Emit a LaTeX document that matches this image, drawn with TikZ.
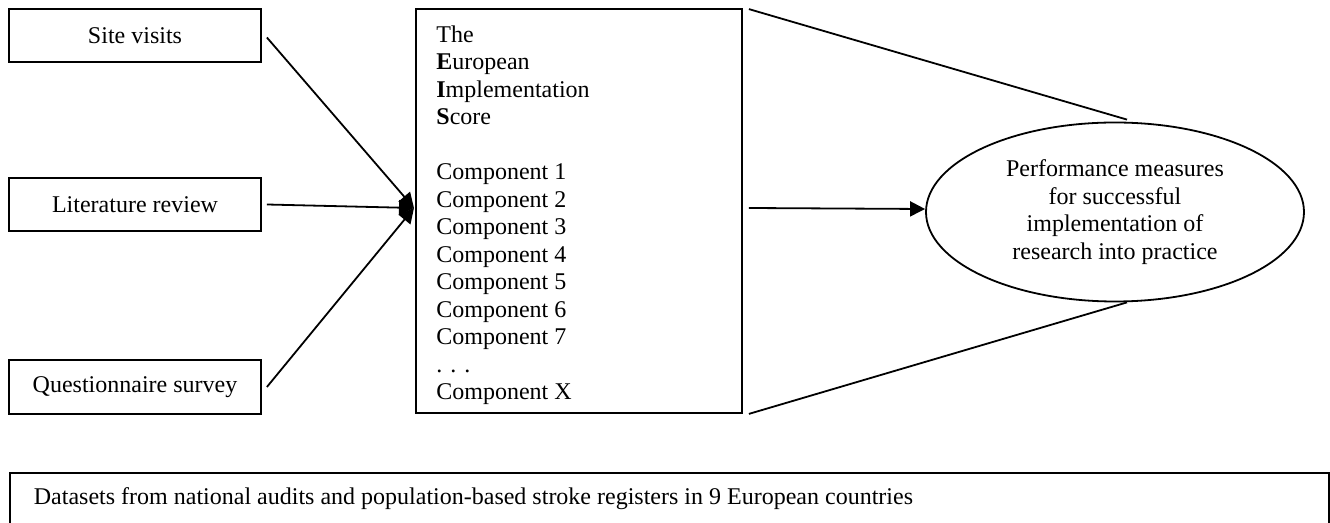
\documentclass[tikz,border=0pt]{standalone}
\usepackage{fontspec}
\setmainfont{Liberation Serif}
\usetikzlibrary{arrows.meta,shapes.geometric}
\tikzset{
  box/.style={draw, line width=0.9pt, inner sep=0pt, align=center, font=\fontsize{12pt}{13.75pt}\selectfont},
  srcbox/.style={box, minimum width=126pt, minimum height=26.5pt},
  arr/.style={line width=0.9pt, -{Triangle[length=7.5pt,width=7.5pt]}},
  ln/.style={line width=0.9pt},
  txt/.style={inner sep=0pt, font=\fontsize{12pt}{13.75pt}\selectfont}
}
\begin{document}
\begin{tikzpicture}[x=0.5pt, y=-0.5pt]
\useasboundingbox (0,0) rectangle (1330,523);
% source boxes
\node[srcbox] (site) at (135,35.5) {Site visits};
\node[srcbox] (lit) at (135,204.5) {Literature review};
\node[srcbox, minimum height=27pt] (quest) at (135,387) {Questionnaire survey};
% EIS box
\node[box, minimum width=163pt, minimum height=202pt] (eis) at (579,211) {};
\node[txt, anchor=base west, align=left] (eistxt) at (436,400) {The\\
\textbf{E}uropean\\
\textbf{I}mplementation\\
\textbf{S}core\\[13.75pt]
Component 1\\
Component 2\\
Component 3\\
Component 4\\
Component 5\\
Component 6\\
Component 7\\
. . .\\
Component X};
% ellipse
\node[box, ellipse, minimum width=189pt, minimum height=89.5pt] (ell) at (1115,212)
  {Performance measures\\for successful\\implementation of\\research into practice};
% bottom box
\node[box, anchor=north west, minimum width=659.5pt, minimum height=26pt] (data) at (9,472)
  {\makebox[635.5pt][l]{Datasets from national audits and population-based stroke registers in 9 European countries}};
% connectors
\coordinate (conv) at (414,208);
\draw[arr] ([xshift=2.5pt,yshift=-1pt]site.east) -- (conv);
\draw[arr] ([xshift=2.5pt]lit.east) -- (conv);
\draw[arr] ([xshift=2.5pt]quest.east) -- (conv);
\draw[arr] ([xshift=3pt,yshift=1.5pt]eis.east) -- ([yshift=1.5pt]ell.west);
\draw[ln] ([xshift=3pt,yshift=-0.5pt]eis.north east) -- ([xshift=6pt,yshift=1pt]ell.north);
\draw[ln] ([xshift=3pt]eis.south east) -- ([xshift=6pt]ell.south);
\end{tikzpicture}
\end{document}
